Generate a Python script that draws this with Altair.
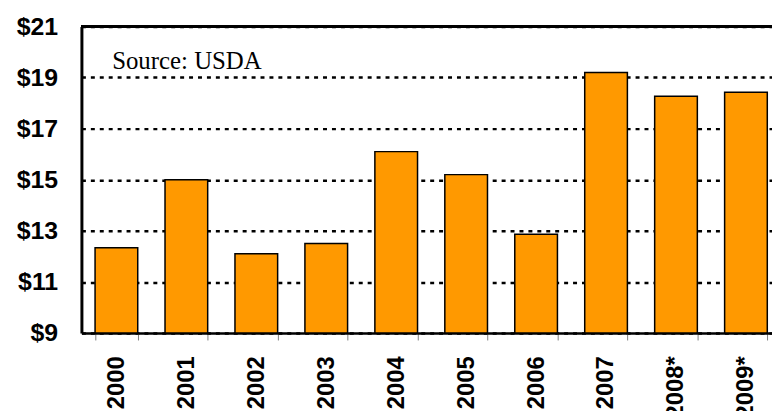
import altair as alt
import pandas as pd

years = ["2000", "2001", "2002", "2003", "2004", "2005", "2006", "2007", "2008*", "2009*"]
prices = [12.34, 15.0, 12.1, 12.5, 16.1, 15.2, 12.87, 19.2, 18.27, 18.42]
y_ticks = [9, 11, 13, 15, 17, 19, 21]
source_note = "Source: USDA"

df = pd.DataFrame({"year": years, "price": prices})

BAND_RANGE = 705

bars = alt.Chart(df).mark_bar(
    color="#FF9900", stroke="#000000", strokeWidth=1.5
).encode(
    x=alt.X(
        "year:N",
        sort=years,
        scale=alt.Scale(range=[0, BAND_RANGE], paddingInner=0.39, paddingOuter=0.195),
        axis=alt.Axis(
            title=None,
            labelAngle=270,
            labelAlign="right",
            labelBaseline="middle",
            labelFont="Liberation Sans",
            labelFontWeight="bold",
            labelFontSize=24,
            labelColor="#000000",
            labelPadding=16,
            tickBand="extent",
            tickSize=7,
            tickColor="#808080",
            tickWidth=1,
            domainColor="#000000",
            domainWidth=2.5,
            grid=False,
        ),
    ),
    y=alt.Y(
        "price:Q",
        scale=alt.Scale(domain=[9, 21], nice=False, zero=False),
        axis=alt.Axis(
            title=None,
            values=y_ticks,
            labelExpr="'$' + datum.value",
            labelFont="Liberation Sans",
            labelFontWeight="bold",
            labelFontSize=25,
            labelColor="#000000",
            labelPadding=24,
            ticks=False,
            domainColor="#000000",
            domainWidth=3,
            grid=True,
            gridColor="#000000",
            gridWidth=2.5,
            gridDash=[4, 5],
        ),
    ),
    y2=alt.datum(9),
)

top_line = alt.Chart(df).mark_rule(color="#000000", strokeWidth=2.5).encode(
    y=alt.datum(21),
    x=alt.value(0),
    x2=alt.value(BAND_RANGE),
)

note = alt.Chart(pd.DataFrame({"t": [source_note]})).mark_text(
    font="Liberation Serif", fontSize=25, color="#000000", align="left", baseline="alphabetic"
).encode(
    text="t:N",
    x=alt.value(31),
    y=alt.value(43),
)

chart = alt.layer(bars, top_line, note).properties(
    width=696,
    height=309,
    autosize=alt.AutoSizeParams(type="none"),
    padding={"left": 74, "top": 17, "right": 0, "bottom": 77},
).configure_view(stroke=None).configure(background="#ffffff")

chart.save("out.html", embed_options={"renderer": "svg", "actions": False})
